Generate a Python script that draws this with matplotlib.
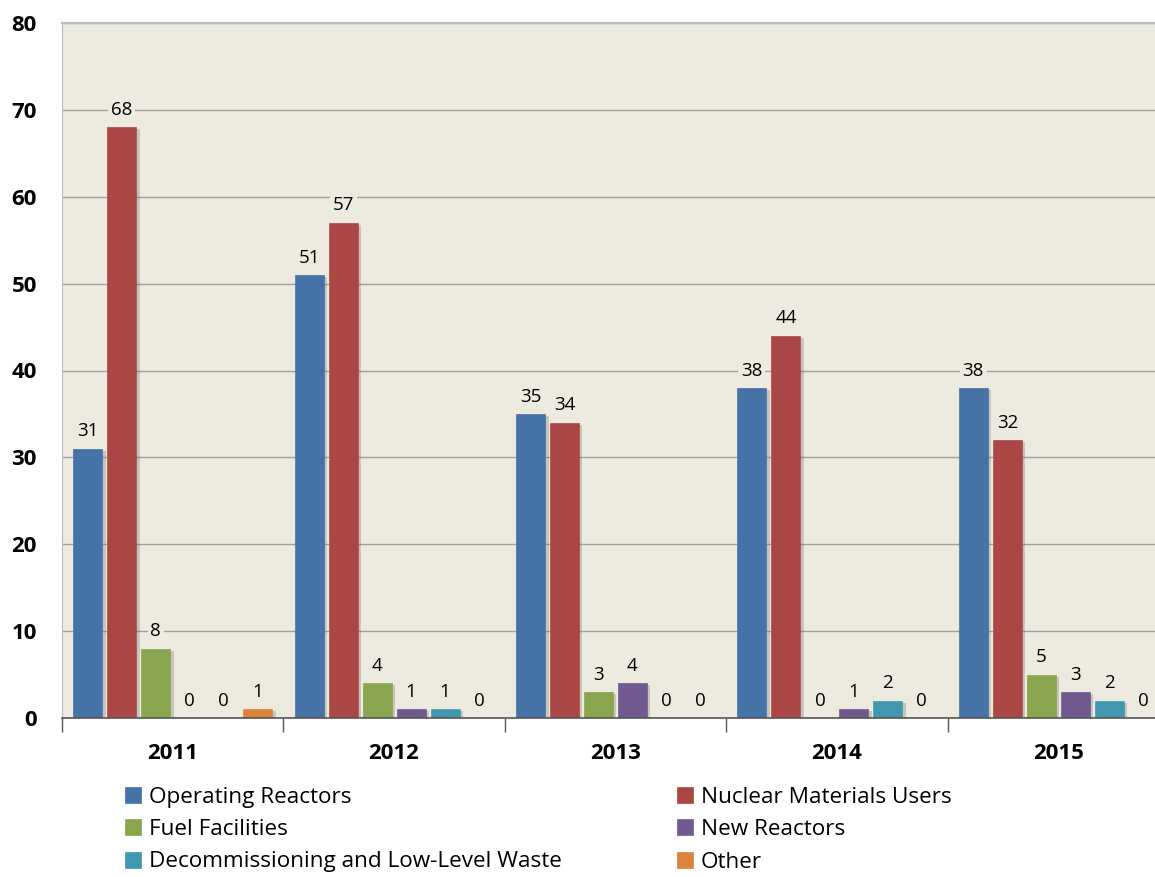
import matplotlib
matplotlib.use("Agg")
import matplotlib.pyplot as plt
import matplotlib.patheffects as pe
import numpy as np

years = ["2011", "2012", "2013", "2014", "2015"]
series_names = ["Operating Reactors", "Nuclear Materials Users", "Fuel Facilities",
                "New Reactors", "Decommissioning and Low-Level Waste", "Other"]
operating_reactors = [31, 51, 35, 38, 38]
nuclear_materials_users = [68, 57, 34, 44, 32]
fuel_facilities = [8, 4, 3, 0, 5]
new_reactors = [0, 1, 4, 1, 3]
decommissioning = [0, 1, 0, 2, 2]
other = [1, 0, 0, 0, 0]
series_values = [operating_reactors, nuclear_materials_users, fuel_facilities,
                 new_reactors, decommissioning, other]
colors = ["#4572A7", "#AA4643", "#89A54E", "#71588F", "#4198AF", "#DB843D"]
y_ticks = [0, 10, 20, 30, 40, 50, 60, 70, 80]

plt.rcParams['font.family'] = ['Open Sans', 'DejaVu Sans']

W, H = 1155, 877
fig = plt.figure(figsize=(W / 100, H / 100), dpi=100)
left, right, top, bottom = 62, 1169, 23, 718
ax = fig.add_axes([left / W, 1 - bottom / H, (right - left) / W, (bottom - top) / H])
ax.set_facecolor("#EDEAE0")

x = np.arange(len(years))
slot = 0.1535
bw = 0.131
shadow = [pe.SimplePatchShadow(offset=(2.5, -1.5), shadow_rgbFace="#666666", alpha=0.28), pe.Normal()]
handles = []
for i, (name, vals, c) in enumerate(zip(series_names, series_values, colors)):
    pos = x + (i - 2.5) * slot
    bars = ax.bar(pos, vals, width=bw, color=c, label=name, zorder=3,
                  edgecolor=c, linewidth=0.5)
    for b in bars:
        b.set_path_effects(shadow)
    handles.append(bars)
    for p, v in zip(pos, vals):
        ax.annotate(str(v), (p, v), xytext=(0, 6), textcoords="offset points",
                    ha="center", va="bottom", fontsize=13.5, color="black", zorder=5,
                    bbox=dict(boxstyle="square,pad=0.15", fc="#EDEAE0", ec="none"))

ax.set_xlim(-0.5, len(years) - 0.5)
ax.set_ylim(0, 80)
ax.set_yticks(y_ticks)
ax.set_yticklabels([str(t) for t in y_ticks], fontsize=16, fontweight="bold")
ax.yaxis.grid(True, color="#A0A0A0", linewidth=1.0, zorder=0)
ax.set_axisbelow(True)
ax.tick_params(axis="y", length=0, pad=18)

ax.set_xticks(x)
ax.set_xticklabels(years, fontsize=16, fontweight="bold")
ax.tick_params(axis="x", length=0, pad=18)
ax.set_xticks(np.arange(len(years) + 1) - 0.5, minor=True)
ax.tick_params(axis="x", which="minor", length=10, color="#555555", width=1)

ax.spines["top"].set_color("#BBBBBB")
ax.spines["top"].set_linewidth(1.5)
ax.spines["right"].set_visible(False)
ax.spines["left"].set_color("#BBBBBB")
ax.spines["bottom"].set_color("#555555")
ax.spines["bottom"].set_linewidth(1.2)
ax.spines["bottom"].set_zorder(4)

order = [0, 2, 4, 1, 3, 5]
leg = fig.legend([handles[i] for i in order], [series_names[i] for i in order],
                 ncol=2, loc="upper left", bbox_to_anchor=(125 / W, 1 - 787 / H),
                 frameon=False, fontsize=16.2, handlelength=0.72, handleheight=0.72,
                 handletextpad=0.35, columnspacing=5.1, labelspacing=0.5,
                 borderpad=0, borderaxespad=0)
for h in leg.legend_handles:
    h.set_path_effects([])

fig.savefig("out.png", dpi=100)
